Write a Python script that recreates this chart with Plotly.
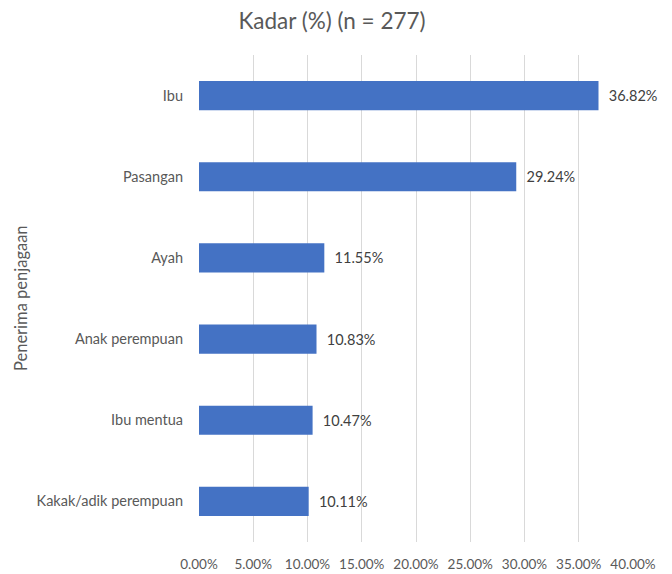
import plotly.graph_objects as go

categories = ["Ibu", "Pasangan", "Ayah", "Anak perempuan", "Ibu mentua", "Kakak/adik perempuan"]
values = [36.82, 29.24, 11.55, 10.83, 10.47, 10.11]
x_ticks = [0, 5, 10, 15, 20, 25, 30, 35, 40]
x_tick_labels = [f"{v:.2f}%" for v in x_ticks]

FONT = "Lato"
GREY = "#595959"
W, H = 672, 574
L, R, T, B = 199, 39, 55, 32

fig = go.Figure(go.Bar(
    x=values,
    y=categories,
    orientation="h",
    marker=dict(color="#4472C4", line=dict(width=0)),
    width=0.36,
    text=[f"\u2002{v:.2f}%" for v in values],
    textposition="outside",
    textfont=dict(family=FONT, size=14.5, color="#404040"),
    cliponaxis=False,
))

fig.update_layout(
    width=W, height=H,
    margin=dict(l=L, r=R, t=T, b=B, autoexpand=False),
    paper_bgcolor="white", plot_bgcolor="white",
    font=dict(family=FONT, size=13, color=GREY),
    title=dict(text="Kadar (%) (n = 277)", x=332 / W, xanchor="center", y=1 - 21 / H, yanchor="middle",
               font=dict(family=FONT, size=22.5, color=GREY)),
    showlegend=False,
    xaxis=dict(range=[0, 40], tickvals=x_ticks, ticktext=x_tick_labels,
               showgrid=True, gridcolor="#D9D9D9", gridwidth=1,
               zeroline=False, showline=False, ticks="",
               ticklabelstandoff=12,
               tickfont=dict(family=FONT, size=13.5, color=GREY)),
    yaxis=dict(categoryorder="array", categoryarray=categories[::-1],
               showgrid=False, zeroline=False, showline=False, ticks="",
               ticklabelstandoff=15,
               tickfont=dict(family=FONT, size=14.5, color=GREY)),
    annotations=[dict(text="Penerima penjagaan", textangle=-90, xref="paper", yref="paper",
                      x=(21 - L) / (W - L - R), y=(H - 298 - B) / (H - T - B),
                      xanchor="center", yanchor="middle",
                      showarrow=False, font=dict(family=FONT, size=16.5, color=GREY))],
)

fig.write_html("out.html", config={"displayModeBar": False},
               post_script="document.body.style.margin='0';document.body.style.padding='0';")
